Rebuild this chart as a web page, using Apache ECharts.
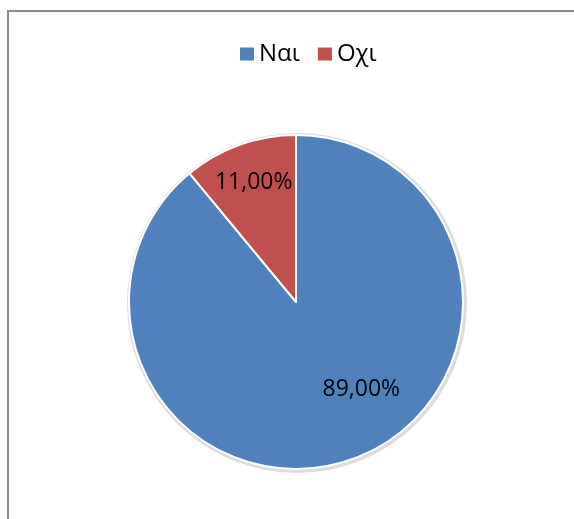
<!DOCTYPE html>
<html>
<head>
<meta charset="utf-8">
<style>
html,body{margin:0;padding:0;background:#fff;}
#c{width:574px;height:519px;}
</style>
<script src="https://cdn.jsdelivr.net/npm/echarts@6/dist/echarts.min.js"></script>
</head>
<body>
<div id="c"></div>
<script>
const categories = ['Ναι', 'Οχι'];
const values = [89, 11];
const colors = ['#4F81BD', '#C0504D'];
const labelOffsets = [[36, 6], [-13, -38]];

const chart = echarts.init(document.getElementById('c'), null, {renderer: 'canvas'});
const font = '"Open Sans", sans-serif';

const pieData = categories.map((name, i) => ({
  name: name,
  value: values[i],
  itemStyle: {color: colors[i]},
  label: {offset: labelOffsets[i]}
}));

chart.setOption({
  animation: false,
  backgroundColor: '#fff',
  graphic: [{
    type: 'rect',
    shape: {x: 8, y: 11, width: 700, height: 700},
    style: {fill: 'none', stroke: '#8c8c8c', lineWidth: 2},
    silent: true
  }],
  legend: {
    data: categories.map(n => ({name: n, icon: 'rect'})),
    left: 235,
    top: 37,
    itemWidth: 14,
    itemHeight: 13,
    itemGap: 18,
    itemStyle: {borderWidth: 0},
    textStyle: {fontFamily: font, fontSize: 24, color: '#000', padding: [0, 0, 0, 0]}
  },
  series: [
    {
      type: 'pie',
      silent: true,
      center: [297, 303],
      radius: [0, 170],
      z: 1,
      label: {show: false},
      labelLine: {show: false},
      itemStyle: {color: '#dcdcdc'},
      data: [{value: 1, name: 'bg'}],
      legendHoverLink: false
    },
    {
      type: 'pie',
      center: [296, 302],
      radius: [0, 167],
      startAngle: 90,
      clockwise: true,
      z: 2,
      itemStyle: {borderColor: '#fff', borderWidth: 2},
      label: {
        show: true,
        position: 'inside',
        formatter: p => p.value.toFixed(2).replace('.', ',') + '%',
        fontFamily: font,
        fontSize: 23,
        color: '#000'
      },
      labelLine: {show: false},
      data: pieData
    }
  ]
});
</script>
</body>
</html>
